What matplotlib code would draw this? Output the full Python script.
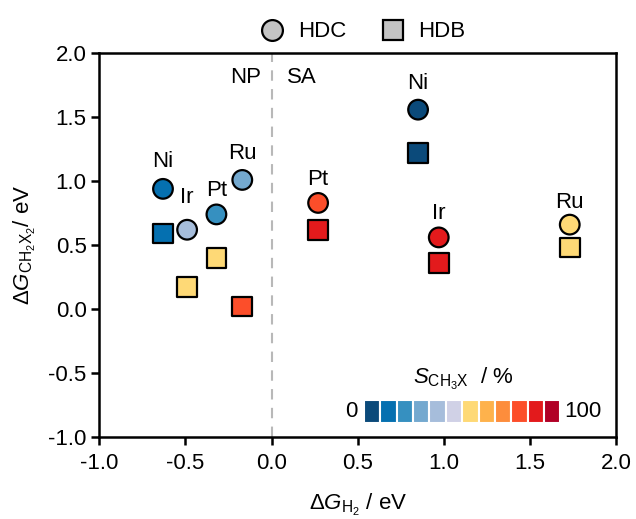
import numpy as np
import matplotlib.pyplot as plt
from matplotlib.colors import ListedColormap, BoundaryNorm
from matplotlib.lines import Line2D

plt.rcParams['font.family'] = ['Liberation Sans', 'DejaVu Sans']
plt.rcParams['mathtext.fontset'] = 'custom'
plt.rcParams['mathtext.rm'] = 'Liberation Sans'
plt.rcParams['mathtext.it'] = 'Liberation Sans:italic'

metals = ['Ni', 'Ir', 'Pt', 'Ru']

# nanoparticle (NP) side
np_dg_h2 = [-0.63, -0.49, -0.32, -0.17]
np_hdc = [0.94, 0.62, 0.74, 1.01]
np_hdb = [0.59, 0.17, 0.40, 0.02]
np_hdb_x = [-0.63, -0.49, -0.32, -0.17]
np_sel_hdc = [12.5, 37.5, 20.8, 29.2]
np_sel_hdb = [12.5, 54.2, 54.2, 79.2]

# single atom (SA) side
sa_dg_h2 = [0.85, 0.97, 0.27, 1.73]
sa_hdc = [1.56, 0.56, 0.83, 0.66]
sa_hdb = [1.22, 0.36, 0.62, 0.48]
sa_sel_hdc = [4.2, 87.5, 79.2, 54.2]
sa_sel_hdb = [4.2, 87.5, 87.5, 54.2]

bin_colors = ['#0b4a7a', '#0570b0', '#3690c0', '#74a9cf', '#a6bddb', '#d0d1e6',
              '#fed976', '#feb24c', '#fd8d3c', '#fc4e2a', '#e31a1c', '#b10026']
cmap = ListedColormap(bin_colors)
norm = BoundaryNorm(np.linspace(0, 100, 13), cmap.N)

fs = 16

fig = plt.figure(figsize=(6.36, 5.19), dpi=100)
ax = fig.add_axes([0.156, 0.1586, 0.813, 0.7384])

ax.axvline(0, color='#b8b8b8', ls=(0, (5, 4)), lw=1.5, zorder=1)

ms = 200
ax.scatter(np_hdb_x, np_hdb, s=ms, marker='s', c=np_sel_hdb, cmap=cmap, norm=norm,
           edgecolors='black', linewidths=1.6, zorder=3)
ax.scatter(np_dg_h2, np_hdc, s=ms, marker='o', c=np_sel_hdc, cmap=cmap, norm=norm,
           edgecolors='black', linewidths=1.6, zorder=3)
ax.scatter(sa_dg_h2, sa_hdb, s=ms, marker='s', c=sa_sel_hdb, cmap=cmap, norm=norm,
           edgecolors='black', linewidths=1.6, zorder=3)
ax.scatter(sa_dg_h2, sa_hdc, s=ms, marker='o', c=sa_sel_hdc, cmap=cmap, norm=norm,
           edgecolors='black', linewidths=1.6, zorder=3)

np_offsets = [20, 23, 17, 19]
sa_offsets = [19, 17, 17, 16]
for m, x, y, off in zip(metals, np_dg_h2, np_hdc, np_offsets):
    ax.annotate(m, (x, y), xytext=(0, off), textcoords='offset points',
                ha='center', va='center', fontsize=fs)
for m, x, y, off in zip(metals, sa_dg_h2, sa_hdc, sa_offsets):
    ax.annotate(m, (x, y), xytext=(0, off), textcoords='offset points',
                ha='center', va='center', fontsize=fs)

ax.text(-0.06, 1.81, 'NP', ha='right', va='center', fontsize=fs)
ax.text(0.09, 1.81, 'SA', ha='left', va='center', fontsize=fs)

ticks = np.arange(-1, 2.01, 0.5)
ax.set_xlim(-1, 2)
ax.set_ylim(-1, 2)
ax.set_xticks(ticks)
ax.set_yticks(ticks)
ax.set_xticklabels([f'{v:.1f}' for v in ticks])
ax.set_yticklabels([f'{v:.1f}' for v in ticks])
ax.tick_params(direction='out', length=6, width=1.8, labelsize=fs)
ax.tick_params(axis='x', pad=6)
ax.tick_params(axis='y', pad=3)
for sp in ax.spines.values():
    sp.set_linewidth(1.8)

ax.set_xlabel(r'$\Delta\mathit{G}_{\mathrm{H_2}}$ / eV', fontsize=fs)
ax.set_ylabel(r'$\Delta\mathit{G}_{\mathrm{CH_2X_2}}$/ eV', fontsize=fs)
ax.xaxis.set_label_coords(0.5, -0.145)
ax.yaxis.set_label_coords(-0.118, 0.5)

handles = [
    Line2D([], [], ls='none', marker='o', markersize=15, markerfacecolor='#c4c4c4',
           markeredgecolor='black', markeredgewidth=1.6, label='HDC'),
    Line2D([], [], ls='none', marker='s', markersize=15, markerfacecolor='#c4c4c4',
           markeredgecolor='black', markeredgewidth=1.6, label='HDB'),
]
ax.legend(handles=handles, loc='lower center', bbox_to_anchor=(0.5, 1.0), ncol=2,
          frameon=False, fontsize=fs, handletextpad=0.15, columnspacing=1.1,
          borderaxespad=0.1)

# selectivity color key
cax = ax.inset_axes([0.512, 0.036, 0.38, 0.06])
cax.bar(np.arange(12), 1, width=1, color=bin_colors, edgecolor='white', linewidth=1.5)
cax.set_xlim(-0.5, 11.5)
cax.set_ylim(0, 1)
cax.axis('off')
cax.text(-0.9, 0.5, '0', ha='right', va='center', fontsize=fs)
cax.text(11.75, 0.5, '100', ha='left', va='center', fontsize=fs)
cax.text(5.6, 1.35, r'$\mathit{S}_{\mathrm{CH_3X}}$  / %', ha='center', va='bottom', fontsize=fs)

fig.savefig('out.png', dpi=100)
